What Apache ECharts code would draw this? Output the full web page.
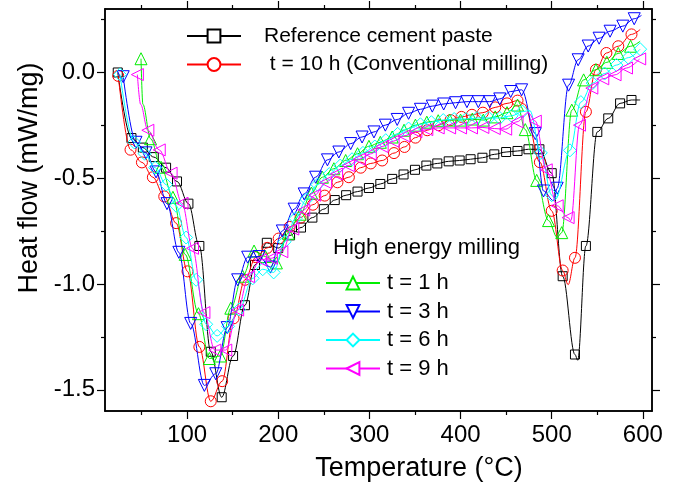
<!DOCTYPE html>
<html><head><meta charset="utf-8">
<script src="https://cdn.jsdelivr.net/npm/echarts@6/dist/echarts.min.js"></script>
<style>html,body{margin:0;padding:0;background:#fff}#c{width:682px;height:490px}</style>
</head><body><div id="c"></div>
<script>
// ---- data (temperature °C, heat flow mW/mg) ----
const names = ['Reference cement paste', ' t = 10 h (Conventional milling)', 't = 1 h', 't = 3 h', 't = 6 h', 't = 9 h'];

const refT = [24, 39, 51.5, 63.5, 77, 89, 101.5, 113.5, 126, 138, 150.5, 163.5, 174.5, 187.5, 200, 213, 225, 237.5, 250, 262, 274.5, 287, 299.5, 312, 325, 337.5, 350, 362.5, 374.5, 387, 399, 411, 424, 437, 450, 462.5, 474.5, 486.5, 500, 512, 525.5, 528.5, 537.5, 550, 562, 575, 587.5, 597];
const refV = [0, -0.31, -0.355, -0.40, -0.45, -0.515, -0.62, -0.82, -1.32, -1.535, -1.34, -1.10, -0.91, -0.805, -0.83, -0.77, -0.733, -0.686, -0.646, -0.603, -0.58, -0.563, -0.546, -0.527, -0.503, -0.482, -0.46, -0.44, -0.43, -0.42, -0.416, -0.41, -0.403, -0.387, -0.376, -0.371, -0.363, -0.363, -0.476, -0.963, -1.333, -1.36, -0.82, -0.281, -0.217, -0.146, -0.13, -0.13];
const refLineOnly = [41, 47];

const redT = [24.5, 38, 50.5, 62.5, 75, 88, 100.5, 113.5, 126, 138.5, 151, 163.5, 175.5, 188, 200.5, 212.5, 224.5, 238, 251, 265, 277.5, 290.5, 301.5, 314, 327, 338.5, 350.5, 363.5, 376, 389, 401, 412.5, 424.5, 438, 451, 462.5, 470, 487, 500, 512, 518, 525.5, 537.5, 548.5, 560, 573, 587.5, 597];
const redV = [-0.016, -0.365, -0.425, -0.495, -0.586, -0.712, -0.94, -1.297, -1.554, -1.459, -1.162, -0.98, -0.873, -0.829, -0.785, -0.73, -0.686, -0.625, -0.582, -0.519, -0.495, -0.45, -0.43, -0.416, -0.381, -0.352, -0.308, -0.273, -0.249, -0.225, -0.21, -0.2, -0.19, -0.165, -0.146, -0.133, -0.15, -0.424, -0.654, -0.936, -1.003, -0.876, -0.186, 0.013, 0.092, 0.124, 0.18, 0.203];
const redLineOnly = [36, 40, 47];

const greenT = [49.5, 51.5, 60, 71.5, 84.5, 98, 112.5, 124.5, 136.5, 148, 161, 173.5, 186, 198, 211, 224, 236.5, 248.5, 261, 274, 287, 299.5, 312, 325, 338, 350.5, 363, 375.5, 388, 400, 413, 425, 438, 451, 462.5, 471, 483.5, 496.5, 506, 511, 522, 535, 548.5, 560.5, 573, 586.5, 597];
const greenV = [0.065, -0.15, -0.313, -0.448, -0.59, -0.86, -1.14, -1.352, -1.34, -1.114, -0.963, -0.844, -0.87, -0.90, -0.76, -0.67, -0.57, -0.495, -0.455, -0.416, -0.384, -0.349, -0.33, -0.305, -0.273, -0.249, -0.235, -0.228, -0.225, -0.225, -0.22, -0.225, -0.21, -0.19, -0.154, -0.27, -0.51, -0.70, -0.78, -0.757, -0.178, -0.035, 0.013, 0.048, 0.09, 0.124, 0.148];
const greenLineOnly = [1, 38, 46];

const blueT = [30, 44, 55, 66, 78, 91, 104, 119, 131.5, 144, 155.5, 166.5, 179, 191.5, 204.5, 217.5, 228.5, 241, 254, 266.5, 279.5, 292, 305, 317.5, 330.5, 343, 356, 369, 381.5, 394.5, 407, 419.5, 432, 443, 455, 467, 482, 491, 502, 506, 518.5, 529, 540, 552, 564, 578, 590.5, 598.5];
const blueV = [-0.02, -0.33, -0.38, -0.47, -0.62, -0.85, -1.186, -1.479, -1.424, -1.206, -0.98, -0.873, -0.87, -0.92, -0.749, -0.646, -0.574, -0.495, -0.413, -0.376, -0.336, -0.305, -0.281, -0.249, -0.222, -0.193, -0.174, -0.159, -0.149, -0.143, -0.138, -0.138, -0.138, -0.125, -0.09, -0.082, -0.289, -0.56, -0.606, -0.547, -0.06, 0.06, 0.125, 0.162, 0.195, 0.219, 0.254, 0.27];
const blueLineOnly = [38, 47];

const cyanT = [26.5, 42, 53.5, 65, 77, 88, 99, 110, 121, 133, 145, 157, 172, 183, 195, 207, 219, 231, 243, 256, 268, 281, 293, 306, 318, 331, 343, 356, 368, 381, 393, 406, 418, 431, 443, 456, 468, 476, 488, 500, 504, 520, 532, 545, 558, 571, 584, 597];
const cyanV = [-0.01, -0.33, -0.384, -0.45, -0.53, -0.63, -0.78, -0.98, -1.19, -1.245, -1.2, -1.12, -0.973, -0.93, -0.945, -0.80, -0.69, -0.60, -0.53, -0.48, -0.44, -0.41, -0.38, -0.35, -0.32, -0.29, -0.265, -0.245, -0.235, -0.225, -0.22, -0.22, -0.215, -0.215, -0.215, -0.205, -0.185, -0.18, -0.38, -0.58, -0.60, -0.368, -0.14, -0.05, -0.005, 0.035, 0.07, 0.11];
const cyanLineOnly = [37, 40];

const magT = [45.5, 49, 57, 69.5, 82.5, 94.5, 106, 118.5, 130.5, 142.5, 155.5, 167.5, 180.5, 192.5, 204, 216, 228, 240, 252, 264, 277, 289, 301, 314, 326, 338, 351, 363, 375.5, 388, 400, 412, 424.5, 437, 449.5, 462, 474, 482, 494, 506, 518, 521, 530.5, 544, 556, 569.5, 582, 596.5];
const magV = [-0.01, -0.15, -0.273, -0.366, -0.476, -0.618, -0.831, -1.135, -1.312, -1.312, -1.123, -0.965, -0.886, -0.878, -0.847, -0.74, -0.65, -0.58, -0.52, -0.48, -0.44, -0.41, -0.385, -0.35, -0.325, -0.30, -0.28, -0.27, -0.262, -0.262, -0.262, -0.262, -0.26, -0.265, -0.268, -0.233, -0.19, -0.23, -0.46, -0.63, -0.686, -0.70, -0.249, -0.074, -0.03, -0.011, 0.021, 0.064];
const magLineOnly = [1, 36, 41];

const xMajor = [100, 200, 300, 400, 500, 600];
const xMinor = [50, 150, 250, 350, 450, 550];
const yMajor = [-1.5, -1.0, -0.5, 0.0];
const yMinor = [-1.25, -0.75, -0.25, 0.25];

// ---- chart ----
const FONT = 'Liberation Sans, Arial, Helvetica, sans-serif';
const chart = echarts.init(document.getElementById('c'), null, {renderer: 'canvas'});

function buildData(T, V, lineOnly) {
  return T.map((t, i) => lineOnly.indexOf(i) >= 0
    ? {value: [t, V[i]], symbol: 'none'}
    : {value: [t, V[i]]});
}
const styles = [
  {color: '#000000', symbol: 'rect', size: 9, rot: 0},
  {color: '#ff0000', symbol: 'circle', size: 11, rot: 0},
  {color: '#00ee00', symbol: 'triangle', size: 12, rot: 0},
  {color: '#0000ff', symbol: 'triangle', size: 12, rot: 180},
  {color: '#00ffff', symbol: 'diamond', size: 13, rot: 0},
  {color: '#ff00ff', symbol: 'triangle', size: 12, rot: 90}
];
const sets = [[refT, refV, refLineOnly], [redT, redV, redLineOnly], [greenT, greenV, greenLineOnly],
              [blueT, blueV, blueLineOnly], [cyanT, cyanV, cyanLineOnly], [magT, magV, magLineOnly]];

const series = sets.map((s, k) => ({
  name: names[k], type: 'line', xAxisIndex: 0, yAxisIndex: 0,
  data: buildData(s[0], s[1], s[2]),
  smooth: 0.35, smoothMonotone: 'x',
  symbol: styles[k].symbol, symbolSize: styles[k].size, symbolRotate: styles[k].rot,
  showAllSymbol: true,
  lineStyle: {color: styles[k].color, width: 1},
  itemStyle: {color: 'rgba(255,255,255,0)', borderColor: styles[k].color, borderWidth: 1},
  emphasis: {disabled: true},
  z: 2 + k
}));

function xAx(pos, ticks, len, labels, extra) {
  return Object.assign({
    type: 'value', min: 10, max: 610, position: pos,
    axisLine: {show: true, onZero: false, lineStyle: {color: '#000', width: 1.5}},
    axisTick: {show: true, inside: false, length: len, customValues: ticks, lineStyle: {color: '#000', width: 1.2}},
    axisLabel: labels ? {show: true, customValues: xMajor, fontSize: 24, fontFamily: FONT, color: '#000', margin: 12} : {show: false},
    splitLine: {show: false}
  }, extra || {});
}
function yAx(pos, ticks, len, labels, extra) {
  return Object.assign({
    type: 'value', min: -1.6, max: 0.3, position: pos,
    axisLine: {show: true, onZero: false, lineStyle: {color: '#000', width: 1.5}},
    axisTick: {show: true, inside: false, length: len, customValues: ticks, lineStyle: {color: '#000', width: 1.2}},
    axisLabel: labels ? {show: true, customValues: yMajor, fontSize: 24, fontFamily: FONT, color: '#000', margin: 10,
      formatter: v => Number(v).toFixed(1)} : {show: false},
    splitLine: {show: false}
  }, extra || {});
}

const option = {
  animation: false,
  backgroundColor: '#ffffff',
  grid: {left: 105, right: 30, top: 9, bottom: 79, containLabel: false},
  title: {text: 'High energy milling', left: 333, top: 237, padding: 0,
    textStyle: {fontSize: 22, fontWeight: 'normal', fontFamily: FONT, color: '#000'}},
  xAxis: [
    xAx('bottom', xMajor, 8, true, {name: 'Temperature (°C)', nameLocation: 'middle', nameGap: 44,
      nameTextStyle: {fontSize: 27, fontFamily: FONT, color: '#000', padding: [0, 0, 0, 81]}}),
    xAx('bottom', xMinor, 4, false),
    xAx('top', xMajor, 8, false),
    xAx('top', xMinor, 4, false)
  ],
  yAxis: [
    yAx('left', yMajor, 8, true, {name: 'Heat flow (mW/mg)', nameLocation: 'middle', nameGap: 60,
      nameTextStyle: {fontSize: 27, fontFamily: FONT, color: '#000', padding: [0, 0, 0, 64]}}),
    yAx('left', yMinor, 4, false),
    yAx('right', yMajor, 8, false),
    yAx('right', yMinor, 4, false)
  ],
  legend: [
    {data: [names[0], names[1]], orient: 'vertical', left: 181, top: 20,
      itemWidth: 54, itemHeight: 16, itemGap: 6.5, selectedMode: false,
      itemStyle: {color: '#ffffff'}, lineStyle: {width: 2},
      textStyle: {fontSize: 21, fontFamily: FONT, color: '#000', lineHeight: 22, padding: [0, 0, 0, 18]}},
    {data: [names[2], names[3], names[4], names[5]], orient: 'vertical', left: 320, top: 267,
      itemWidth: 54, itemHeight: 16, itemGap: 6.5, selectedMode: false,
      itemStyle: {color: '#ffffff'}, lineStyle: {width: 2},
      textStyle: {fontSize: 22, fontFamily: FONT, color: '#000', lineHeight: 22, padding: [0, 0, 0, 2]}}
  ],
  series: series
};
chart.setOption(option);
</script>
</body></html>
